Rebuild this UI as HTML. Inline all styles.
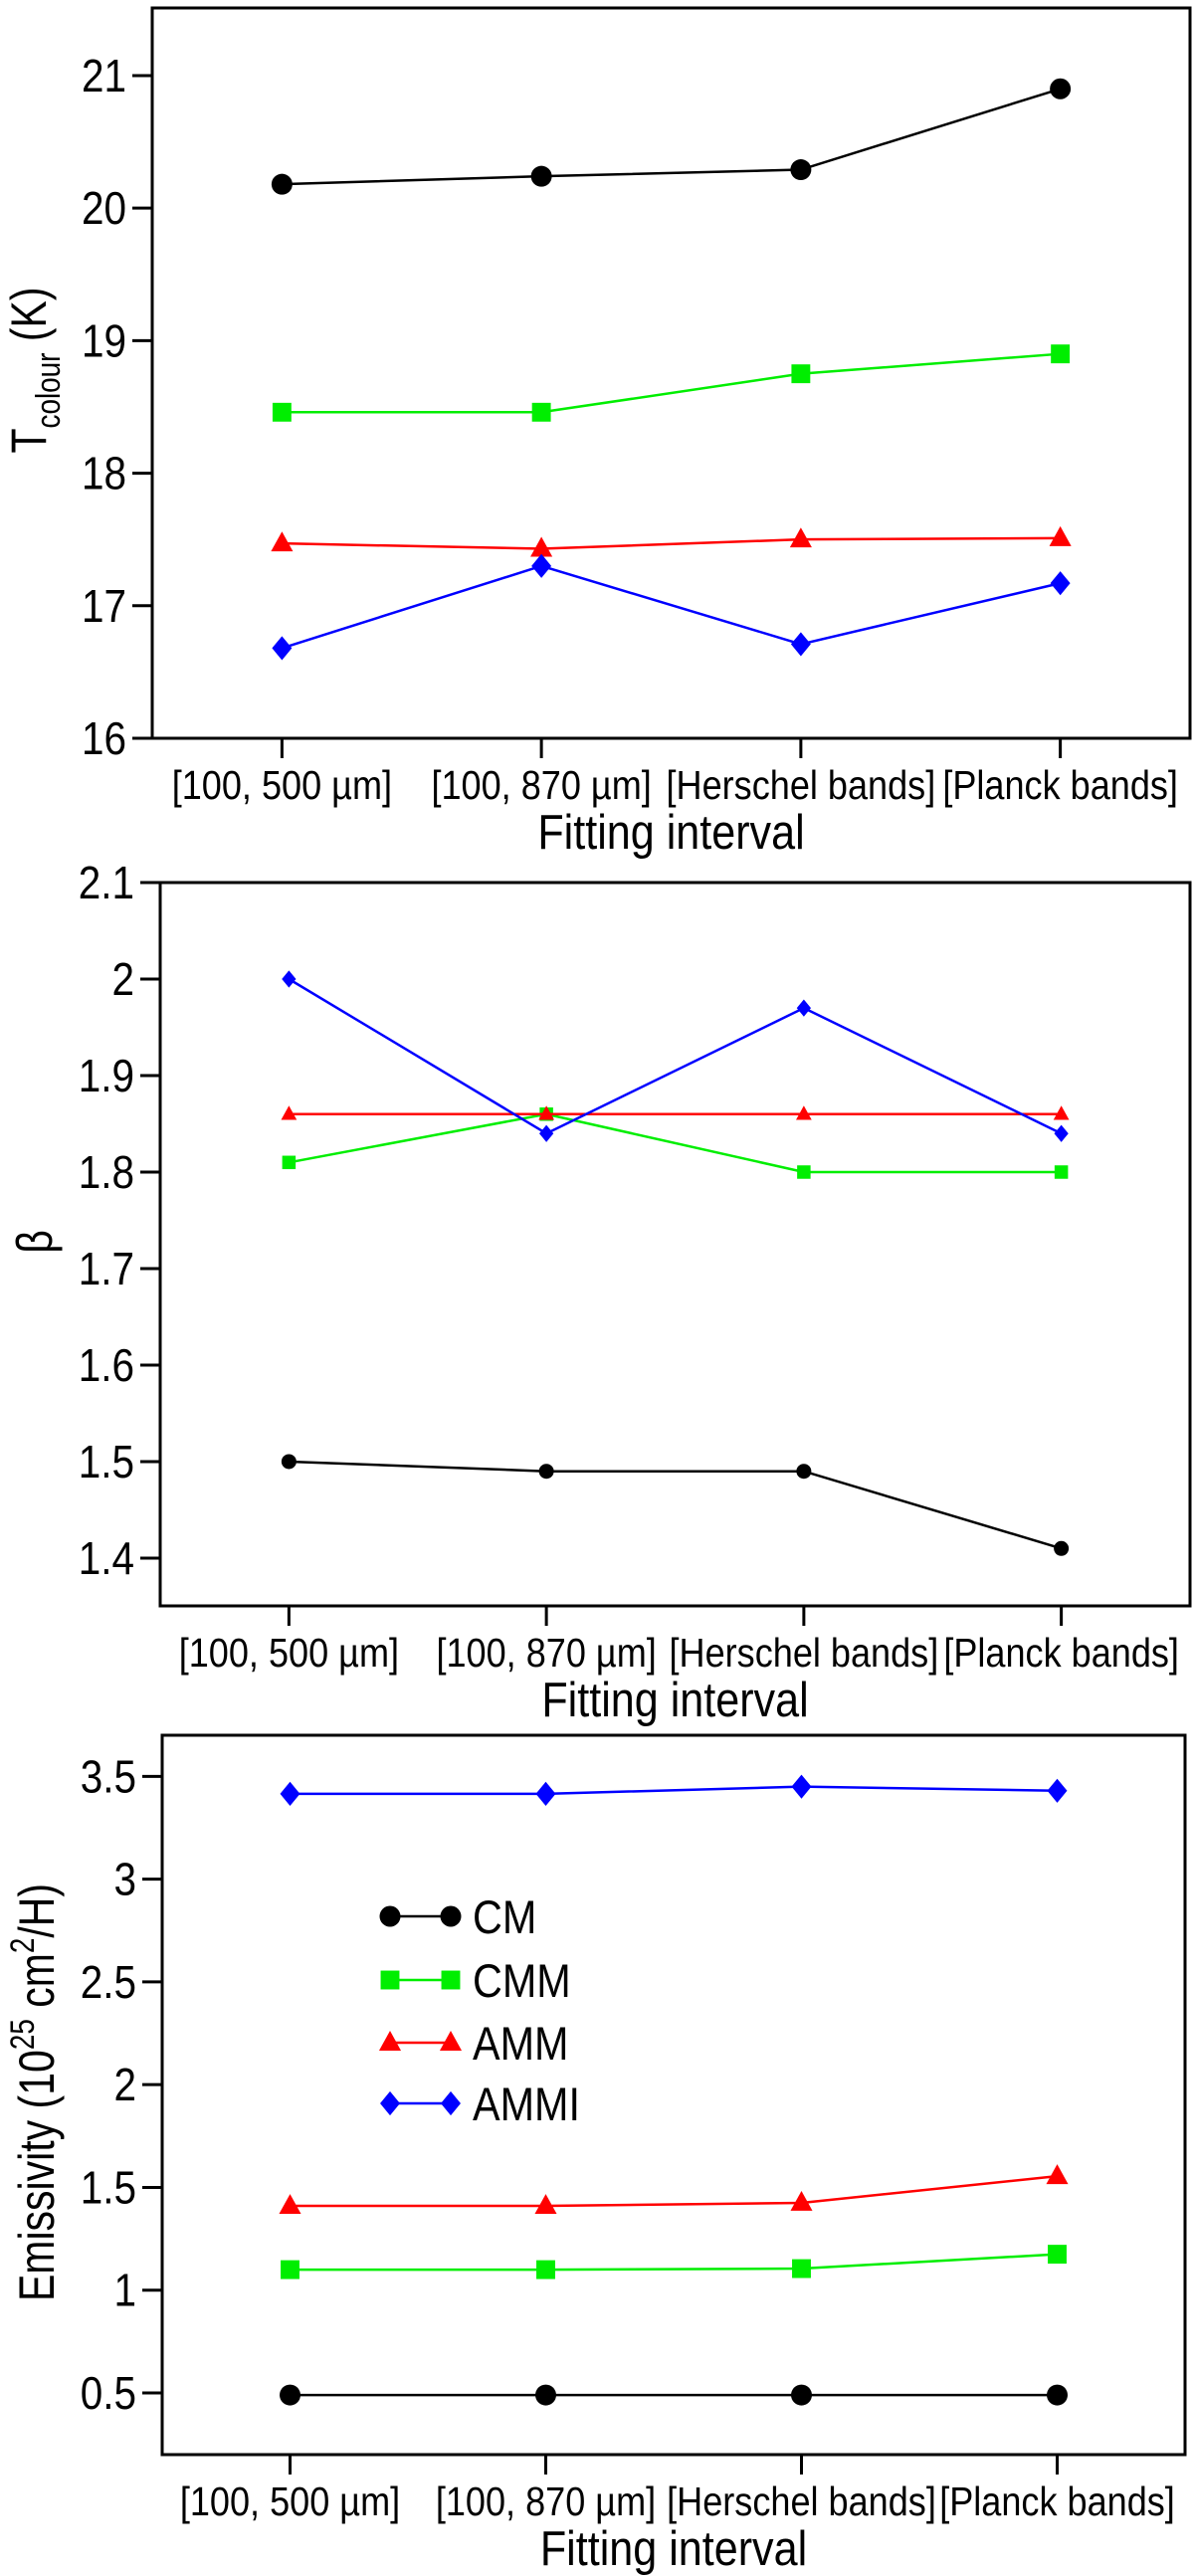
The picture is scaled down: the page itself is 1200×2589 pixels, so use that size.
<!DOCTYPE html>
<html><head><meta charset="utf-8"><style>
html,body{margin:0;padding:0;background:#fff;}
svg{display:block;font-family:"Liberation Sans",Arial,sans-serif;}
</style></head><body>
<svg id="fig" width="1200" height="2589" viewBox="0 0 1200 2589" xmlns="http://www.w3.org/2000/svg"></svg>
<script>
const categories = ["[100, 500 µm]", "[100, 870 µm]", "[Herschel bands]", "[Planck bands]"];
const seriesNames = ["CM", "CMM", "AMM", "AMMI"];
// Panel 1: T colour (K)
const tempTicks = [16, 17, 18, 19, 20, 21];
const tempCM = [20.18, 20.24, 20.29, 20.9];
const tempCMM = [18.46, 18.46, 18.75, 18.9];
const tempAMM = [17.47, 17.43, 17.5, 17.51];
const tempAMMI = [16.68, 17.3, 16.71, 17.17];
// Panel 2: beta
const betaTicks = [1.4, 1.5, 1.6, 1.7, 1.8, 1.9, 2, 2.1];
const betaCM = [1.5, 1.49, 1.49, 1.41];
const betaCMM = [1.81, 1.86, 1.80, 1.80];
const betaAMM = [1.86, 1.86, 1.86, 1.86];
const betaAMMI = [2.0, 1.84, 1.97, 1.84];
// Panel 3: emissivity
const emisTicks = [0.5, 1, 1.5, 2, 2.5, 3, 3.5];
const emisCM = [0.49, 0.49, 0.49, 0.49];
const emisCMM = [1.1, 1.1, 1.105, 1.175];
const emisAMM = [1.41, 1.41, 1.425, 1.555];
const emisAMMI = [3.415, 3.415, 3.45, 3.43];

const NS = "http://www.w3.org/2000/svg";
const svg = document.getElementById("fig");
const colors = ["#000000", "#00ee00", "#ff0000", "#0000ff"];
const shapes = ["circle", "square", "triangle", "diamond"];

function mk(tag, attrs, parent) {
  const e = document.createElementNS(NS, tag);
  for (const k in attrs) e.setAttribute(k, attrs[k]);
  (parent || svg).appendChild(e);
  return e;
}

function ctext(parent, x, y, size, sx, anchor, rot) {
  const t = mk("text", {x: 0, y: 0, "text-anchor": anchor, "font-size": size,
    transform: `translate(${x},${y})${rot ? " rotate(" + rot + ")" : ""} scale(${sx},1)`}, parent);
  return t;
}

function marker(g, shape, x, y, s, color) {
  let e;
  if (shape === "circle") {
    e = mk("circle", {cx: x, cy: y, r: s, fill: color}, g);
  } else if (shape === "square") {
    e = mk("rect", {x: x - s * 0.9, y: y - s * 0.9, width: s * 1.8, height: s * 1.8, fill: color}, g);
  } else if (shape === "triangle") {
    const h = s * 1.9;
    e = mk("polygon", {points: `${x},${y - h * 0.6} ${x - s * 1.05},${y + h * 0.4} ${x + s * 1.05},${y + h * 0.4}`, fill: color}, g);
  } else {
    e = mk("polygon", {points: `${x},${y - s * 1.15} ${x + s * 0.95},${y} ${x},${y + s * 1.15} ${x - s * 0.95},${y}`, fill: color}, g);
  }
  return e;
}

function panel(cfg) {
  const g = mk("g", {});
  
  
  const xS = i => cfg.left + (i + 0.5) / 4 * (cfg.right - cfg.left);
  const yS = v => cfg.bottom - (v - cfg.ymin) / (cfg.ymax - cfg.ymin) * (cfg.bottom - cfg.top);
  cfg.series.forEach((vals, si) => {
    const sg = mk("g", {}, g);
    
    
    const pts = vals.map((v, i) => xS(i) + "," + yS(v)).join(" ");
    const pl = mk("polyline", {points: pts, fill: "none", stroke: colors[si], "stroke-width": 2.5}, sg);
    
    
    vals.forEach((v, i) => {
      const m = marker(sg, shapes[si], xS(i), yS(v), cfg.ms, colors[si]);
      
      
    });
  });
  const fr = mk("rect", {x: cfg.left, y: cfg.top, width: cfg.right - cfg.left, height: cfg.bottom - cfg.top, fill: "none", stroke: "#000", "stroke-width": 3}, g);
  
  
  cfg.ticks.forEach(t => {
    const y = yS(t);
    mk("line", {x1: cfg.left - 20, x2: cfg.left, y1: y, y2: y, stroke: "#000", "stroke-width": 3}, g);
    const tx = ctext(g, cfg.left - 26, y + 16, 46, 0.88, "end");
    tx.textContent = String(t);
    
    
  });
  categories.forEach((c, i) => {
    const x = xS(i);
    mk("line", {x1: x, x2: x, y1: cfg.bottom, y2: cfg.bottom + 20, stroke: "#000", "stroke-width": 3}, g);
    const tx = ctext(g, x, cfg.bottom + 61, 41, 0.88, "middle");
    tx.textContent = c;
    
    
  });
  const xt = ctext(g, (cfg.left + cfg.right) / 2, cfg.bottom + 111, 49, 0.88, "middle");
  xt.textContent = "Fitting interval";
  
  
  const yt = ctext(g, cfg.ytx, cfg.yty, 50, 0.82, "middle", -90);
  yt.innerHTML = cfg.ytitle;
  
  
  return {g, xS, yS};
}

panel({name: "temperature-panel", left: 153, right: 1196, top: 8, bottom: 742, ymin: 16, ymax: 21.51,
  ticks: tempTicks, series: [tempCM, tempCMM, tempAMM, tempAMMI], ms: 10.5,
  ytx: 46, yty: 372, ytitle: 'T<tspan font-size="34" dy="14">colour</tspan><tspan dy="-14"> (K)</tspan>'});

panel({name: "beta-panel", left: 161, right: 1196, top: 887, bottom: 1614, ymin: 1.3505, ymax: 2.1,
  ticks: betaTicks, series: [betaCM, betaCMM, betaAMM, betaAMMI], ms: 7.5,
  ytx: 52, yty: 1248, ytitle: 'β'});

panel({name: "emissivity-panel", left: 163, right: 1191, top: 1744, bottom: 2467, ymin: 0.2, ymax: 3.7,
  ticks: emisTicks, series: [emisCM, emisCMM, emisAMM, emisAMMI], ms: 10.5,
  ytx: 54, yty: 2103, ytitle: 'Emissivity (10<tspan font-size="34" dy="-20">25</tspan><tspan dy="20"> cm</tspan><tspan font-size="34" dy="-20">2</tspan><tspan dy="20">/H)</tspan>'});

const lg = mk("g", {});


const legendY = [1926, 1990, 2053, 2114];
seriesNames.forEach((n, i) => {
  const eg = mk("g", {}, lg);
  
  
  const y = legendY[i];
  mk("line", {x1: 392, x2: 453, y1: y, y2: y, stroke: colors[i], "stroke-width": 2.5}, eg);
  marker(eg, shapes[i], 392, y, 10.5, colors[i]);
  marker(eg, shapes[i], 453, y, 10.5, colors[i]);
  const t = ctext(eg, 475, y + 17, 47, 0.88, "start");
  t.textContent = n;
});
</script>
</body></html>
